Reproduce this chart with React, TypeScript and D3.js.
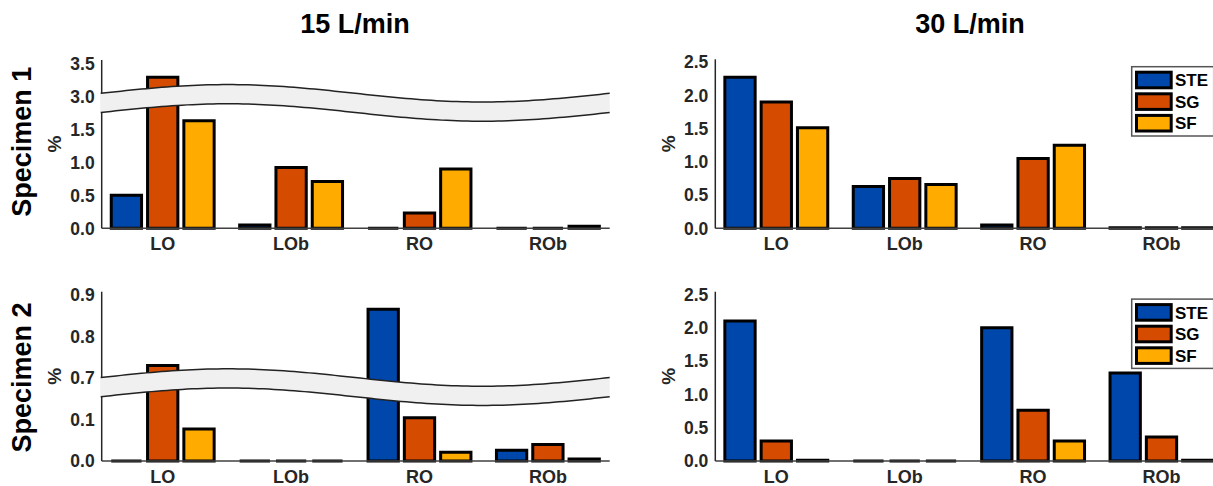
import React, { useRef, useEffect } from 'react';
import * as d3 from 'd3';

const categories = ['LO', 'LOb', 'RO', 'ROb'];
const series = ['STE', 'SG', 'SF'];
const colors = ['#0047AB', '#D54B00', '#FFAB00'];

// Specimen 1, 15 L/min
const spec1Flow15STE = [0.5, 0.05, 0.0, 0.0];
const spec1Flow15SG = [3.29, 0.92, 0.23, 0.0];
const spec1Flow15SF = [1.63, 0.71, 0.9, 0.03];

// Specimen 1, 30 L/min
const spec1Flow30STE = [2.27, 0.63, 0.05, 0.01];
const spec1Flow30SG = [1.9, 0.75, 1.05, 0.01];
const spec1Flow30SF = [1.51, 0.66, 1.25, 0.01];

// Specimen 2, 15 L/min
const spec2Flow15STE = [0.0, 0.0, 0.866, 0.026];
const spec2Flow15SG = [0.73, 0.0, 0.104, 0.04];
const spec2Flow15SF = [0.077, 0.0, 0.021, 0.005];

// Specimen 2, 30 L/min
const spec2Flow30STE = [2.1, 0.0, 2.0, 1.32];
const spec2Flow30SG = [0.3, 0.0, 0.76, 0.36];
const spec2Flow30SF = [0.01, 0.0, 0.3, 0.01];

// broken-axis tick values
const ticks1Flow15 = [0, 0.5, 1.0, 1.5, 3.0, 3.5];
const ticks2Flow15 = [0, 0.1, 0.7, 0.8, 0.9];
const ticksFlow30 = [0, 0.5, 1.0, 1.5, 2.0, 2.5];

const rowTitles = ['Specimen 1', 'Specimen 2'];
const colTitles = ['15 L/min', '30 L/min'];

const App = () => {
  const svgRef = useRef<SVGSVGElement>(null);

  useEffect(() => {
    const svg = d3.select(svgRef.current);
    svg.selectAll('*').remove();

    const font = '"Liberation Sans", Arial, Helvetica, sans-serif';
    const axisW = 508;
    const barW = 30.3;

    const panels = [
      { data: [spec1Flow15STE, spec1Flow15SG, spec1Flow15SF], left: 101.7, top: 60, base: 228.3,
        lo: 1.9, hi: 2.9, max: 3.55, ticks: ticks1Flow15, legend: false },
      { data: [spec1Flow30STE, spec1Flow30SG, spec1Flow30SF], left: 715.3, top: 59.3, base: 228.3,
        lo: null, hi: null, max: 2.54, ticks: ticksFlow30, legend: true },
      { data: [spec2Flow15STE, spec2Flow15SG, spec2Flow15SF], left: 101.7, top: 291.7, base: 461,
        lo: 0.178, hi: 0.678, max: 0.908, ticks: ticks2Flow15, legend: false },
      { data: [spec2Flow30STE, spec2Flow30SG, spec2Flow30SF], left: 715.3, top: 291.7, base: 461,
        lo: null, hi: null, max: 2.54, ticks: ticksFlow30, legend: true },
    ];

    const fmt = d3.format('.1f');

    panels.forEach(p => {
      const g = svg.append('g');
      const L = p.left;

      // y scale, piecewise when the axis is broken
      let y: d3.ScaleLinear<number, number>;
      let breakY = 0;
      if (p.lo !== null && p.hi !== null) {
        const frac = p.lo / (p.lo + (p.max - p.hi));
        breakY = p.base - frac * (p.base - p.top);
        y = d3.scaleLinear().domain([0, p.lo, p.hi, p.max]).range([p.base, breakY, breakY, p.top]);
      } else {
        y = d3.scaleLinear().domain([0, p.max]).range([p.base, p.top]);
      }

      const x = d3.scaleBand().domain(categories).range([L - 3.2, L + 510.4]).padding(0);
      const xSub = d3.scalePoint().domain(series).range([-36.3, 36.3]);

      // bars
      series.forEach((s, j) => {
        g.selectAll(null)
          .data(p.data[j])
          .enter().append('path')
          .attr('d', (v, i) => {
            const cx = (x(categories[i]) as number) + x.bandwidth() / 2 + (xSub(s) as number);
            const x0 = cx - barW / 2;
            const x1 = cx + barW / 2;
            return `M${x0},${p.base}V${y(v)}H${x1}V${p.base}Z`;
          })
          .attr('fill', colors[j])
          .attr('stroke', '#000')
          .attr('stroke-width', 3);
      });

      // axes lines
      g.append('line')
        .attr('x1', L).attr('x2', L + axisW)
        .attr('y1', p.base).attr('y2', p.base)
        .attr('stroke', '#404040').attr('stroke-width', 1.5);
      g.append('line')
        .attr('x1', L).attr('x2', L)
        .attr('y1', p.top).attr('y2', p.base)
        .attr('stroke', '#262626').attr('stroke-width', 1.5);

      // tick labels
      g.selectAll(null)
        .data(p.ticks)
        .enter().append('text')
        .attr('x', L - 7)
        .attr('y', d => y(d))
        .attr('dy', '0.36em')
        .attr('text-anchor', 'end')
        .attr('font-family', font)
        .attr('font-weight', 'bold')
        .attr('font-size', 17.5)
        .attr('fill', '#262626')
        .text(d => fmt(d));

      // category labels
      g.selectAll(null)
        .data(categories)
        .enter().append('text')
        .attr('x', d => (x(d) as number) + x.bandwidth() / 2)
        .attr('y', p.base + 22)
        .attr('text-anchor', 'middle')
        .attr('font-family', font)
        .attr('font-weight', 'bold')
        .attr('font-size', 18)
        .attr('fill', '#262626')
        .text(d => d);

      // % label
      g.append('text')
        .attr('transform', `translate(${L - 47},${(p.top + p.base) / 2}) rotate(-90)`)
        .attr('text-anchor', 'middle')
        .attr('dy', '0.35em')
        .attr('font-family', font)
        .attr('font-weight', 'bold')
        .attr('font-size', 19)
        .attr('fill', '#262626')
        .text('%');

      // break band
      if (p.lo !== null) {
        const ts = d3.range(0, 1.0001, 0.01);
        const wave = (t: number) => -8.7 * Math.sin(2 * Math.PI * t);
        const bx = (t: number) => L - 1 + t * (axisW + 1);
        const upper = ts.map(t => [bx(t), breakY - 9.6 + wave(t)] as [number, number]);
        const lower = ts.map(t => [bx(t), breakY + 9.6 + wave(t)] as [number, number]);
        const line = d3.line();
        g.append('path')
          .attr('d', line(upper.concat(lower.slice().reverse())) + 'Z')
          .attr('fill', '#f0f0f0')
          .attr('stroke', 'none');
        [upper, lower].forEach(edge => {
          g.append('path')
            .attr('d', line(edge))
            .attr('fill', 'none')
            .attr('stroke', '#222')
            .attr('stroke-width', 1.5);
        });
      }

      // legend
      if (p.legend) {
        const lx = 1131.7;
        const ly = p.top + 7.4;
        g.append('rect')
          .attr('x', lx).attr('y', ly)
          .attr('width', 82).attr('height', 69.3)
          .attr('fill', '#fff')
          .attr('stroke', '#555')
          .attr('stroke-width', 1.5);
        series.forEach((s, j) => {
          g.append('rect')
            .attr('x', lx + 4.8)
            .attr('y', ly + 5.5 + j * 21.6)
            .attr('width', 34.7)
            .attr('height', 15.6)
            .attr('fill', colors[j])
            .attr('stroke', '#000')
            .attr('stroke-width', 3);
          g.append('text')
            .attr('x', lx + 43.3)
            .attr('y', ly + 13.3 + j * 21.6)
            .attr('dy', '0.36em')
            .attr('font-family', font)
            .attr('font-weight', 'bold')
            .attr('font-size', 17)
            .attr('fill', '#000')
            .text(s);
        });
      }
    });

    // column titles
    svg.selectAll(null)
      .data(colTitles)
      .enter().append('text')
      .attr('x', (d, i) => (i === 0 ? 355 : 970))
      .attr('y', 33)
      .attr('text-anchor', 'middle')
      .attr('font-family', font)
      .attr('font-weight', 'bold')
      .attr('font-size', 27)
      .attr('fill', '#000')
      .text(d => d);

    // row titles
    svg.selectAll(null)
      .data(rowTitles)
      .enter().append('text')
      .attr('transform', (d, i) => `translate(31,${i === 0 ? 141.7 : 377.5}) rotate(-90)`)
      .attr('text-anchor', 'middle')
      .attr('font-family', font)
      .attr('font-weight', 'bold')
      .attr('font-size', 27)
      .attr('fill', '#000')
      .text(d => d);
  }, []);

  return (
    <svg
      ref={svgRef}
      width={1213}
      height={486}
      style={{ position: 'absolute', left: 0, top: 0, background: '#fff' }}
    />
  );
};

export default App;
